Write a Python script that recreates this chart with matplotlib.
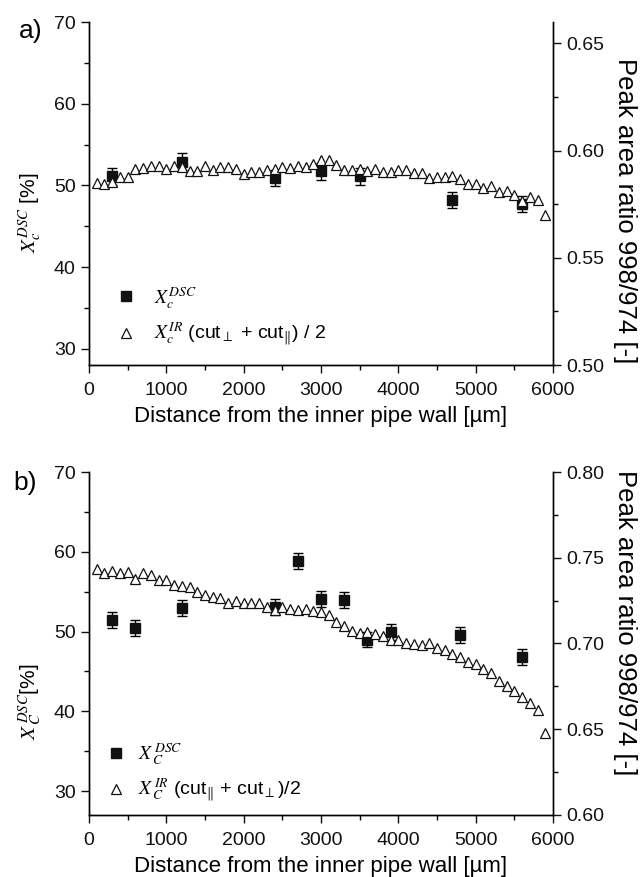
import matplotlib
matplotlib.use("Agg")
import matplotlib.pyplot as plt
from matplotlib.ticker import MultipleLocator

plt.rcParams['font.family'] = ['Liberation Sans', 'DejaVu Sans']
plt.rcParams['mathtext.fontset'] = 'stix'

# --- data ---
# DSC crystallinity [%] with error bars
a_dsc_x = [300, 1200, 2400, 3000, 3500, 4700, 5600]
a_dsc_y = [51.1, 52.9, 50.9, 51.7, 51.1, 48.2, 47.7]
a_dsc_err = [1.0, 1.0, 1.0, 1.0, 1.0, 1.0, 1.0]

b_dsc_x = [300, 600, 1200, 2400, 2700, 3000, 3300, 3600, 3900, 4800, 5600]
b_dsc_y = [51.4, 50.5, 52.9, 53.1, 58.9, 54.1, 54.0, 49.0, 50.0, 49.6, 46.8]
b_dsc_err = [1.0, 1.0, 1.0, 1.0, 1.0, 1.0, 1.0, 1.0, 1.0, 1.0, 1.0]

# IR peak area ratio 998/974
ir_x = [100, 200, 300, 400, 500, 600, 700, 800, 900, 1000,
        1100, 1200, 1300, 1400, 1500, 1600, 1700, 1800, 1900, 2000,
        2100, 2200, 2300, 2400, 2500, 2600, 2700, 2800, 2900, 3000,
        3100, 3200, 3300, 3400, 3500, 3600, 3700, 3800, 3900, 4000,
        4100, 4200, 4300, 4400, 4500, 4600, 4700, 4800, 4900, 5000,
        5100, 5200, 5300, 5400, 5500, 5600, 5700, 5800, 5900]
a_ir = [0.5849, 0.5843, 0.5854, 0.5877, 0.5877, 0.5916, 0.5920, 0.5928, 0.5929, 0.5913,
        0.5928, 0.5924, 0.5905, 0.5904, 0.5926, 0.5911, 0.5924, 0.5922, 0.5914, 0.5893,
        0.5902, 0.5902, 0.5908, 0.5916, 0.5924, 0.5919, 0.5929, 0.5924, 0.5937, 0.5955,
        0.5954, 0.5933, 0.5908, 0.5908, 0.5913, 0.5905, 0.5913, 0.5901, 0.5901, 0.5908,
        0.5911, 0.5897, 0.5897, 0.5872, 0.5877, 0.5877, 0.5883, 0.5869, 0.5843, 0.5846,
        0.5826, 0.5835, 0.5808, 0.5811, 0.5791, 0.5765, 0.5784, 0.5772, 0.5699]
b_ir = [0.7434, 0.7411, 0.7423, 0.7411, 0.7415, 0.7378, 0.7409, 0.7398, 0.7370, 0.7370,
        0.7341, 0.7333, 0.7328, 0.7300, 0.7283, 0.7269, 0.7264, 0.7234, 0.7250, 0.7234,
        0.7234, 0.7234, 0.7215, 0.7195, 0.7215, 0.7199, 0.7195, 0.7199, 0.7191, 0.7186,
        0.7166, 0.7127, 0.7102, 0.7073, 0.7063, 0.7069, 0.7055, 0.7044, 0.7022, 0.7020,
        0.7005, 0.6995, 0.6991, 0.7001, 0.6972, 0.6962, 0.6940, 0.6920, 0.6890, 0.6880,
        0.6850, 0.6830, 0.6780, 0.6750, 0.6725, 0.6690, 0.6655, 0.6610, 0.6480]

xticks = [0, 1000, 2000, 3000, 4000, 5000, 6000]

FS = 14

fig = plt.figure(figsize=(6.41, 8.77), dpi=100)
ax_a = fig.add_axes([0.1388, 0.5838, 0.7239, 0.3911])
ax_b = fig.add_axes([0.1388, 0.0707, 0.7239, 0.3911])


def panel(ax, dx, dy, derr, ir, ylim_l, ylim_r, ylab, lab1, lab2, ylab_y, rlab_y, leg_xy, leg_pad):
    ax2 = ax.twinx()
    ax.errorbar(dx, dy, yerr=derr, fmt='none', ecolor='black', elinewidth=1.0,
                capsize=3.5, capthick=1.0, zorder=2)
    h1, = ax.plot(dx, dy, 's', color='#111111', markersize=7.5, zorder=3)
    h2, = ax2.plot(ir_x, ir, '^', markerfacecolor='white', markeredgecolor='#111111',
                   markeredgewidth=0.9, markersize=7, zorder=3)
    ax.set_xlim(0, 6000)
    ax.set_ylim(*ylim_l)
    ax2.set_ylim(*ylim_r)
    ax.set_xticks(xticks)
    ax.xaxis.set_minor_locator(MultipleLocator(500))
    ax.set_yticks([30, 40, 50, 60, 70])
    ax.yaxis.set_minor_locator(MultipleLocator(5))
    ax2.yaxis.set_major_locator(MultipleLocator(0.05))
    ax2.yaxis.set_minor_locator(MultipleLocator(0.025))
    ax2.yaxis.set_major_formatter(matplotlib.ticker.FormatStrFormatter('%.2f'))
    for a in (ax, ax2):
        a.spines['top'].set_visible(False)
        for s in a.spines.values():
            s.set_linewidth(1.0)
        a.tick_params(which='major', direction='out', length=6, width=1.0,
                      labelsize=FS, colors='#111111')
        a.tick_params(which='minor', direction='out', length=3.5, width=1.0)
    ax.tick_params(axis='x', which='major', pad=6)
    ax.set_xlabel('Distance from the inner pipe wall [\u00b5m]', fontsize=16, labelpad=5)
    ax.text(-0.127, ylab_y, ylab, transform=ax.transAxes, rotation=90,
            ha='center', va='center', fontsize=15)
    ax2.text(1.155, rlab_y, 'Peak area ratio 998/974 [-]', transform=ax.transAxes,
             rotation=270, ha='center', va='center', fontsize=18.5)
    ax.legend([h1, h2], [lab1, lab2], loc='lower left', bbox_to_anchor=leg_xy,
              frameon=False, fontsize=FS, handlelength=1.0, handletextpad=leg_pad,
              labelspacing=0.5)
    return ax2


panel(ax_a, a_dsc_x, a_dsc_y, a_dsc_err, a_ir, (28, 70), (0.50, 0.66),
      r'$X_c^{DSC}$ [%]',
      r'$X_c^{DSC}$',
      r'$X_c^{IR}$ (cut$_{\perp}$ + cut$_{\Vert}$) / 2',
      0.443, 0.45, (0.022, 0.0), 0.9)

panel(ax_b, b_dsc_x, b_dsc_y, b_dsc_err, b_ir, (27, 70), (0.60, 0.80),
      r'$X_{\,C}^{\,DSC}$[%]',
      r'$X_{\,C}^{\,DSC}$',
      r'$X_{\,C}^{\,IR}$ (cut$_{\Vert}$ + cut$_{\perp}$)/2',
      0.33, 0.56, (0.0, -0.02), 0.6)

fig.text(31 / 641, 1 - 31 / 877, 'a)', ha='center', va='center', fontsize=19)
fig.text(25 / 641, 1 - 483 / 877, 'b)', ha='center', va='center', fontsize=19)

fig.savefig('out.png', dpi=100)
